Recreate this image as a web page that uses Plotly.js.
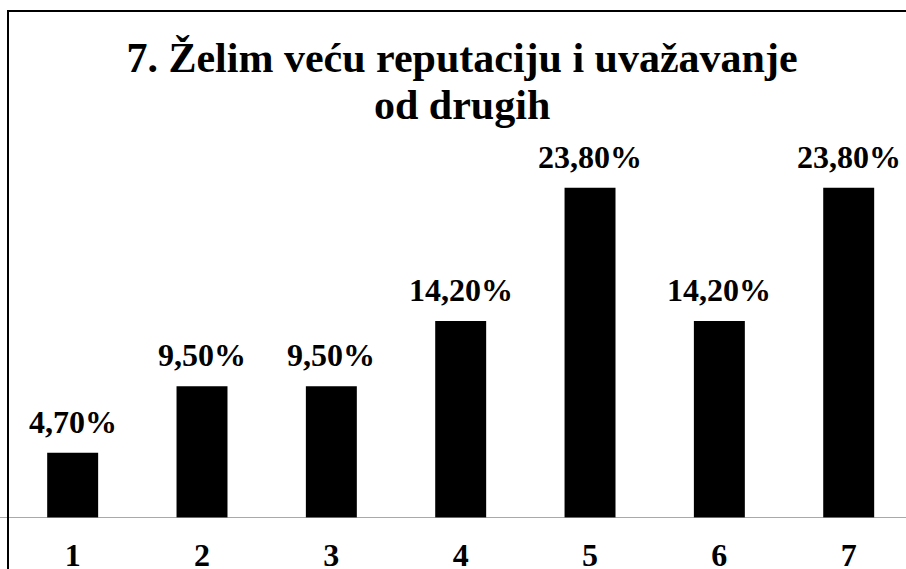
<!DOCTYPE html>
<html>
<head>
<meta charset="utf-8">
<script src="https://cdn.plot.ly/plotly-3.0.1.min.js"></script>
<style>
html, body { margin: 0; padding: 0; background: #fff; overflow: hidden; }
#chart { width: 906px; height: 569px; }
</style>
</head>
<body>
<div id="chart"></div>
<script>
const categories = [1, 2, 3, 4, 5, 6, 7];
const values = [4.7, 9.5, 9.5, 14.2, 23.8, 14.2, 23.8];
const valueLabels = ["4,70%", "9,50%", "9,50%", "14,20%", "23,80%", "14,20%", "23,80%"];
const tickLabels = ["1", "2", "3", "4", "5", "6", "7"];
const titleLine1 = "7. Želim veću reputaciju i uvažavanje";
const titleLine2 = "od drugih";

const serif = "'Liberation Serif', 'Times New Roman', serif";

const trace = {
  type: "bar",
  x: categories,
  y: values,
  marker: { color: "#000000", line: { width: 0 } },
  hoverinfo: "skip"
};

const annotations = categories.map((c, i) => ({
  x: c, y: values[i], xref: "x", yref: "y",
  text: "<b>" + valueLabels[i] + "</b>",
  showarrow: false, yanchor: "bottom", yshift: 11,
  font: { family: serif, size: 32, color: "#000" }
}));

annotations.push({
  x: 0.5056, y: 0.9024, xref: "paper", yref: "paper",
  xanchor: "center", yanchor: "middle", showarrow: false,
  text: "<b>" + titleLine2 + "</b>",
  font: { family: serif, size: 42, color: "#000" }
});

const layout = {
  width: 906, height: 569,
  margin: { l: 8, r: 0, t: 60, b: 51 },
  paper_bgcolor: "#fff", plot_bgcolor: "#fff",
  showlegend: false,
  bargap: 0.606,
  title: {
    text: "<b>" + titleLine1 + "</b>",
    font: { family: serif, size: 42, color: "#000" },
    x: 0.5056, xref: "paper", xanchor: "center",
    y: 0.8993, yref: "container", yanchor: "middle"
  },
  xaxis: {
    range: [0.5, 7.443],
    tickmode: "array", tickvals: categories, ticktext: tickLabels.map(t => "<b>" + t + "</b>"),
    tickfont: { family: serif, size: 32, color: "#000" },
    showgrid: false, zeroline: false, showline: false, ticks: "",
    ticklabelstandoff: 15, fixedrange: true
  },
  yaxis: {
    range: [0, 33.0], visible: false, showgrid: false, zeroline: false, fixedrange: true
  },
  annotations: annotations,
  shapes: [
    { type: "line", xref: "paper", yref: "y", x0: -8/898, x1: 1.02, y0: 0, y1: 0,
      line: { color: "#8c8c8c", width: 1.5 }, layer: "above" },
    { type: "rect", xref: "paper", yref: "paper", x0: 0, x1: 1.01, y0: -0.2, y1: (518 - 11) / 458,
      line: { color: "#000", width: 2 }, fillcolor: "rgba(0,0,0,0)", layer: "above" }
  ]
};

Plotly.newPlot("chart", [trace], layout, { displayModeBar: false, staticPlot: true });
</script>
</body>
</html>
